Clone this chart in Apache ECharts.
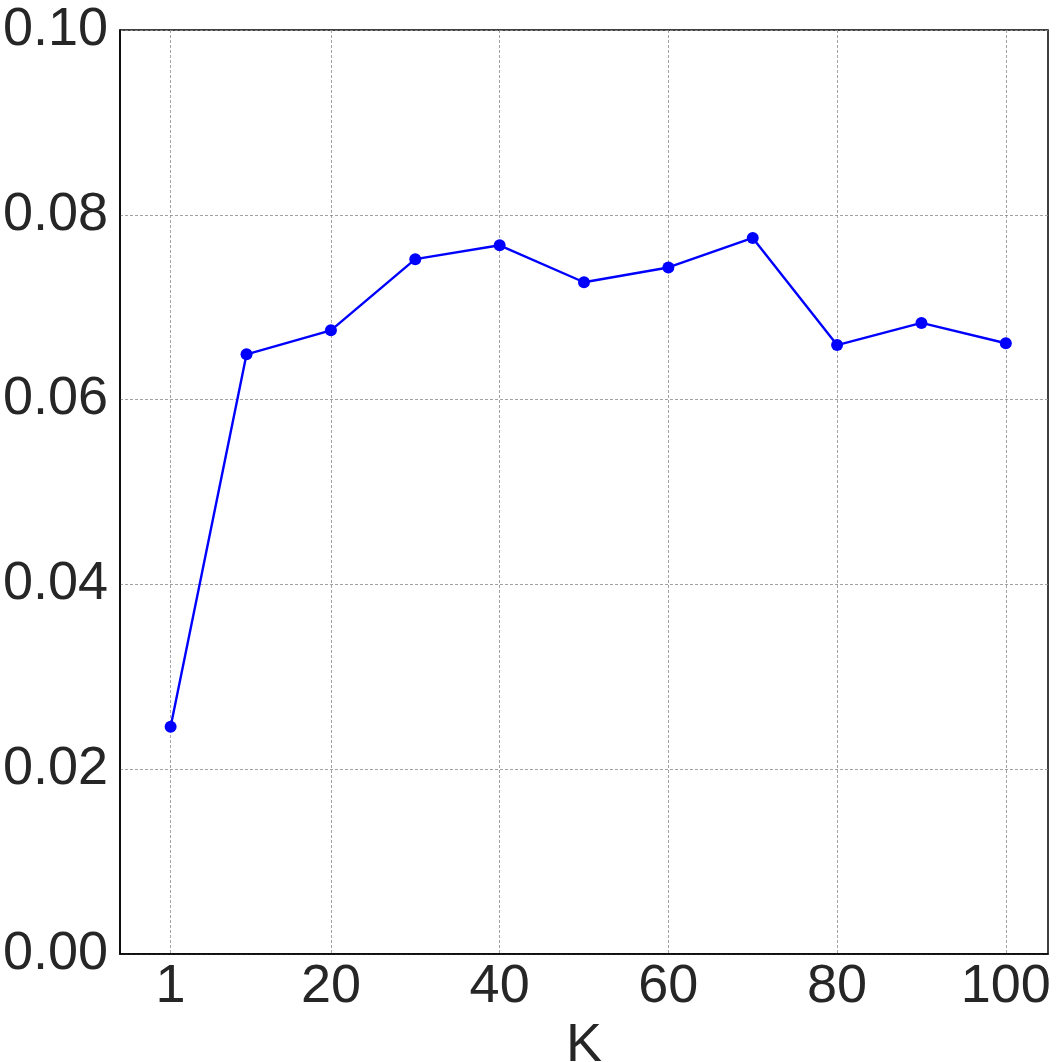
<!DOCTYPE html>
<html>
<head>
<meta charset="utf-8">
<script src="https://cdn.jsdelivr.net/npm/echarts@6/dist/echarts.min.js"></script>
<style>html,body{margin:0;padding:0;background:#fff}#c{width:1062px;height:1062px}</style>
</head>
<body>
<div id="c"></div>
<script>
const kValues = [1, 10, 20, 30, 40, 50, 60, 70, 80, 90, 100];
const scores = [0.0246, 0.0649, 0.0675, 0.0752, 0.0767, 0.0727, 0.0743, 0.0775, 0.0659, 0.0683, 0.0661];
const xTickLabels = [1, 20, 40, 60, 80, 100];
const xAxisName = 'K';

const chart = echarts.init(document.getElementById('c'), null, {renderer: 'canvas'});
const textColor = '#262626';
const font = 'Liberation Sans, Arial, sans-serif';
chart.setOption({
  animation: false,
  backgroundColor: '#fff',
  grid: {left: 120, right: 14, top: 30, bottom: 108, show: true, borderColor: '#000', borderWidth: 1.5, containLabel: false, outerBoundsMode: 'none'},
  xAxis: {
    type: 'value', min: -5, max: 105,
    name: xAxisName, nameLocation: 'middle', nameGap: 62,
    nameTextStyle: {fontSize: 54, color: textColor, fontFamily: font},
    axisLine: {show: true, onZero: false, lineStyle: {color: '#000', width: 1.5}},
    axisTick: {show: false, customValues: xTickLabels},
    axisLabel: {customValues: xTickLabels, fontSize: 54, color: textColor, fontFamily: font, margin: 6},
    splitLine: {show: true, lineStyle: {color: '#8c8c8c', width: 0.8, type: [3, 2]}}
  },
  yAxis: {
    type: 'value', min: 0, max: 0.1, interval: 0.02,
    axisLine: {show: true, onZero: false, lineStyle: {color: '#000', width: 1.5}},
    axisTick: {show: false},
    axisLabel: {fontSize: 54, color: textColor, fontFamily: font, margin: 12, formatter: v => v.toFixed(2)},
    splitLine: {show: true, lineStyle: {color: '#8c8c8c', width: 0.8, type: [3, 2]}}
  },
  series: [{
    type: 'line',
    data: kValues.map((k, i) => [k, scores[i]]),
    symbol: 'circle', symbolSize: 12,
    lineStyle: {color: '#0000ff', width: 2.4},
    itemStyle: {color: '#0000ff'}
  }]
});
</script>
</body>
</html>
